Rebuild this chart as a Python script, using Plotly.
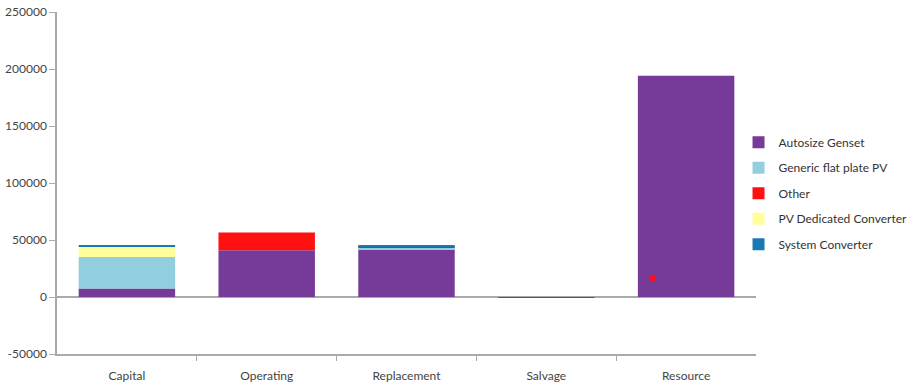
import plotly.graph_objects as go

categories = ["Capital", "Operating", "Replacement", "Salvage", "Resource"]
autosize_genset = [7500, 41000, 42000, -800, 194000]
generic_pv = [27500, 0, 1200, 0, 0]
other = [0, 15500, 700, 0, 0]
pv_dedicated_converter = [9000, 0, 0, 0, 0]
system_converter = [1500, 0, 1200, 0, 0]
dot_value = [16500]

series = [
    ("Autosize Genset", autosize_genset, "#763A98"),
    ("Generic flat plate PV", generic_pv, "#92CDE0"),
    ("Other", other, "#FF1111"),
    ("PV Dedicated Converter", pv_dedicated_converter, "#FFFF99"),
    ("System Converter", system_converter, "#1A78B4"),
]

xpos = list(range(len(categories)))
fig = go.Figure()
for name, vals, col in series:
    fig.add_trace(go.Bar(x=xpos, y=vals, name=name, legendgroup=name,
                         marker=dict(color=col, line=dict(width=0)), width=0.69))

fig.add_trace(go.Scatter(x=[xpos[4] - 0.24], y=dot_value, mode="markers",
                         marker=dict(color="#FF1111", size=6), showlegend=False))

fig.update_layout(
    width=913, height=388,
    margin=dict(l=57, r=157, t=12, b=34, autoexpand=False),
    barmode="relative",
    plot_bgcolor="white", paper_bgcolor="white",
    font=dict(family="Lato", size=12, color="#444"),
    legend=dict(x=0.975, xanchor="left", y=0.47, yanchor="middle", traceorder="grouped",
                font=dict(family="Lato", size=12, color="#333"), tracegroupgap=6.5, itemwidth=30),
    showlegend=True,
)
fig.update_xaxes(
    range=[-0.5, 4.5], tickmode="array", tickvals=xpos, ticktext=categories,
    ticks="", showline=True, linecolor="#AAAAAA", linewidth=1.5, showgrid=False,
    zeroline=False, tickfont=dict(size=12, color="#444"), automargin=False,
    ticklabelstandoff=10,
    minor=dict(tickmode="array", tickvals=[0.5, 1.5, 2.5, 3.5], ticks="outside",
               ticklen=5, tickcolor="#AAAAAA", showgrid=False),
)
fig.update_yaxes(
    range=[-50000, 250000], tickmode="array",
    tickvals=[-50000, 0, 50000, 100000, 150000, 200000, 250000],
    ticktext=["-50000", "0", "50000", "100000", "150000", "200000", "250000"],
    ticks="outside", ticklen=6, tickcolor="#AAAAAA", showline=True, linecolor="#AAAAAA",
    linewidth=1.5, showgrid=False, zeroline=True, zerolinecolor="#AAAAAA", zerolinewidth=1.5,
    tickfont=dict(size=12, color="#444"), automargin=False,
)
fig.write_html("out.html", config={"displayModeBar": False})

with open("out.html", "r", encoding="utf-8") as f:
    html = f.read()
html = html.replace("<head>", "<head><style>html,body{margin:0;padding:0;overflow:hidden;}</style>", 1)
with open("out.html", "w", encoding="utf-8") as f:
    f.write(html)
